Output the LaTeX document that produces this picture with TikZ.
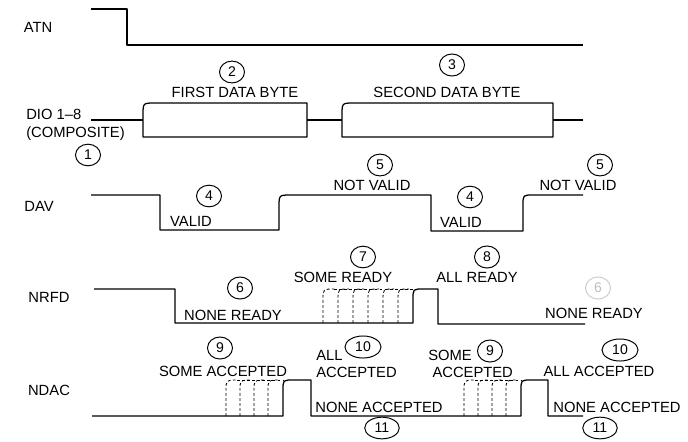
\documentclass[tikz,border=0pt]{standalone}
\usepackage{fontspec}
\setmainfont{Liberation Sans}
\usetikzlibrary{shapes.geometric}

\begin{document}
\begin{tikzpicture}[x=0.025cm,y=-0.025cm,
    sig/.style={line width=0.9pt,line join=round},
    pend/.style={line width=0.6pt,dash pattern=on 2pt off 1.6pt},
    lbl/.style={font=\fontsize{10.5}{12.5}\selectfont,inner sep=0pt},
    num/.style={draw,ellipse,line width=0.7pt,inner xsep=3.5pt,inner ysep=2pt,font=\fontsize{10}{10}\selectfont}]
      \useasboundingbox (0,0) rectangle (688,441);

      % signal names
      \node[lbl] (atn) at (38,27) {ATN};
      \node[lbl,align=left,anchor=west] (dio) at (26,125) {DIO 1--8\\(COMPOSITE)};
      \node[lbl] (dav) at (39,206) {DAV};
      \node[lbl] (nrfd) at (49,297) {NRFD};
      \node[lbl] (ndac) at (49,390) {NDAC};

      % ATN
      \draw[sig] (91,9) -- (127,9) -- (127,45) -- (583,45);

      % DIO 1-8
      \draw[sig] (91,120) -- (143,120) (307,120) -- (342,120) (553,120) -- (583,120);
      \foreach \a/\b in {143/307,342/553}
        \draw[sig] (\a,137) -- (\a,115) .. controls (\a,103) .. (\a+12,103) -- (\b,103) -- (\b,137) -- cycle;
      \node[lbl] (byte1) at (235,92) {FIRST DATA BYTE};
      \node[lbl] (byte2) at (447,92) {SECOND DATA BYTE};

      % DAV
      \draw[sig] (91,195) -- (160,195) -- (160,230) -- (279,230) -- (279,207) .. controls (279,195) .. (291,195)
        -- (431,195) -- (431,231) -- (523,231) -- (523,205) .. controls (523,195) .. (533,195) -- (583,195);
      \node[lbl] (valid1) at (191,221) {VALID};
      \node[lbl] (notvalid1) at (372,185) {NOT VALID};
      \node[lbl] (valid2) at (461,222) {VALID};
      \node[lbl] (notvalid2) at (578,185) {NOT VALID};

      % NRFD
      \draw[sig] (94,289) -- (175,289) -- (175,323) -- (413,323) -- (413,299) .. controls (413,289) .. (423,289)
        -- (438,289) -- (438,324) -- (585,324);
      \foreach \x in {323,338,...,398}
        \draw[pend] (\x,323) -- (\x,300) .. controls (\x,289) .. (\x+11,289);
      \draw[pend] (334,289) -- (413,289);
      \node[lbl] (noneready1) at (233,315) {NONE READY};
      \node[lbl] (someready) at (343,277) {SOME READY};
      \node[lbl] (allready) at (477,277) {ALL READY};
      \node[lbl] (noneready2) at (594,313) {NONE READY};

      % NDAC
      \draw[sig] (92,416) -- (283,416) -- (283,390) .. controls (283,380) .. (293,380) -- (311,380) -- (311,416)
        -- (521,416) -- (521,390) .. controls (521,380) .. (531,380) -- (548,380) -- (548,416) -- (583,416);
      \foreach \x in {226,240,254,268,464,478,492,506}
        \draw[pend] (\x,416) -- (\x,391) .. controls (\x,380) .. (\x+11,380);
      \draw[pend] (237,380) -- (283,380) (475,380) -- (521,380);
      \node[lbl] (someacc1) at (223,371) {SOME ACCEPTED};
      \node[lbl,align=left,anchor=west] (allacc1) at (316,364) {ALL\\ACCEPTED};
      \node[lbl] (noneacc1) at (379,407) {NONE ACCEPTED};
      \node[lbl,align=left,anchor=west] (someacc2) at (428,364) {SOME\\\hspace{3pt}ACCEPTED};
      \node[lbl] (allacc2) at (599,371) {ALL ACCEPTED};
      \node[lbl] (noneacc2) at (617,407) {NONE ACCEPTED};

      % circled numbers
      \node[num] (c1) at (88,155) {1};
      \node[num] (c2) at (232,72) {2};
      \node[num] (c3) at (452,65) {3};
      \node[num] (c4a) at (209,196) {4};
      \node[num] (c4b) at (470,197) {4};
      \node[num] (c5a) at (380,165) {5};
      \node[num] (c5b) at (600,165) {5};
      \node[num] (c6a) at (240,288) {6};
      \node[num,draw=gray!40,text=gray!50] (c6b) at (598,288) {6};
      \node[num] (c7) at (363,257) {7};
      \node[num] (c8) at (487,257) {8};
      \node[num] (c9a) at (220,348) {9};
      \node[num] (c9b) at (490,351) {9};
      \node[num] (c10a) at (363,347) {10};
      \node[num] (c10b) at (620,350) {10};
      \node[num] (c11a) at (382,428) {11};
      \node[num] (c11b) at (600,428) {11};
    \end{tikzpicture}
\end{document}
